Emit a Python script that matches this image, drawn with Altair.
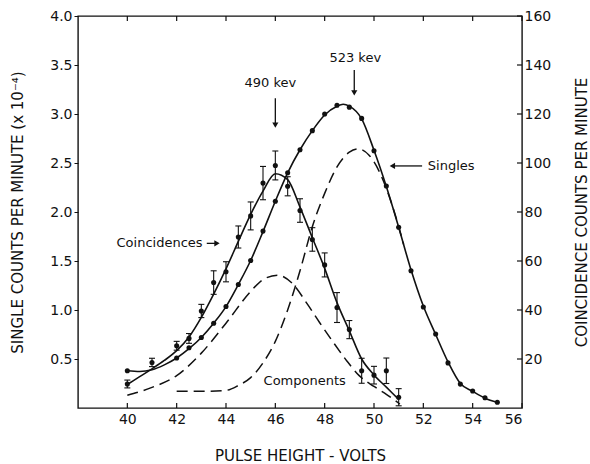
import altair as alt
import pandas as pd

# ---------------- data ----------------
# Singles data points (left axis, counts/min x 10^-4)
singles_v = [40, 42, 42.5, 43, 43.5, 44, 44.5, 45, 45.5, 46, 46.5, 47, 47.5, 48,
             48.5, 49, 49.5, 50, 50.5, 51, 51.5, 52, 52.5, 53, 53.5, 54, 54.5, 55]
singles_c = [0.38, 0.51, 0.615, 0.72, 0.865, 1.035, 1.26, 1.505, 1.805, 2.11, 2.40,
             2.635, 2.83, 3.00, 3.09, 3.07, 2.955, 2.625, 2.265, 1.845, 1.40, 1.03,
             0.755, 0.46, 0.244, 0.174, 0.104, 0.058]

# Singles smooth curve
sfit_v = [40, 40.5, 41, 41.5, 42, 42.5, 43, 43.5, 44, 44.5, 45, 45.5, 46, 46.5, 47,
          47.5, 48, 48.5, 48.75, 49, 49.5, 50, 50.5, 51, 51.5, 52, 52.5, 53, 53.5,
          54, 54.5, 55]
sfit_c = [0.38, 0.372, 0.39, 0.44, 0.51, 0.605, 0.72, 0.865, 1.035, 1.26, 1.505,
          1.80, 2.11, 2.40, 2.635, 2.83, 2.99, 3.08, 3.10, 3.08, 2.95, 2.63, 2.26,
          1.845, 1.41, 1.04, 0.75, 0.47, 0.25, 0.17, 0.10, 0.058]

# Coincidence data points (right axis, counts/min) with error half-widths
coin_v = [40, 41, 42, 42.5, 43, 43.5, 44, 44.5, 45, 45.5, 46, 46.5, 47, 47.5, 48,
          48.5, 49, 49.5, 50, 50.5, 51]
coin_c = [9.8, 18.6, 25.4, 28.4, 39.6, 51.2, 55.6, 69.8, 78.4, 91.8, 99.0, 90.5,
          80.6, 68.8, 58.4, 41.0, 32.0, 15.2, 13.4, 15.2, 4.4]
coin_e = [1.6, 1.7, 1.8, 2.0, 2.7, 4.8, 4.1, 4.5, 5.7, 6.8, 5.9, 3.9, 4.8, 4.8, 4.9,
          6.1, 3.7, 5.1, 3.6, 5.2, 3.5]

# Coincidence smooth curve
cfit_v = [40, 40.5, 41, 41.5, 42, 42.5, 43, 43.5, 44, 44.5, 45, 45.5, 46, 46.5, 47,
          47.5, 48, 48.5, 49, 49.5, 50, 50.5, 51]
cfit_c = [9.6, 12.8, 16.0, 19.4, 23.4, 29.0, 37.0, 46.5, 56.8, 68.0, 79.0, 88.5,
          95.6, 93.2, 82.0, 69.5, 57.0, 43.0, 31.5, 20.0, 13.5, 8.5, 3.5]

# Dashed component curves (left axis units)
c490_v = [40, 41, 42, 43, 44, 45, 45.5, 46.1, 46.65, 47.3, 47.8, 48.35, 48.9, 49.4,
          50, 50.5, 51.05]
c490_c = [0.13, 0.21, 0.33, 0.56, 0.865, 1.19, 1.31, 1.355, 1.28, 1.06, 0.87, 0.67,
          0.48, 0.33, 0.22, 0.14, 0.04]
c523_v = [42, 43, 44, 44.5, 45, 45.5, 46, 46.5, 47, 47.5, 48, 48.5, 49, 49.35, 49.8,
          50.2, 50.5, 50.85, 51.2]
c523_c = [0.17, 0.17, 0.18, 0.23, 0.31, 0.46, 0.68, 1.00, 1.40, 1.85, 2.19, 2.46,
          2.61, 2.645, 2.58, 2.42, 2.24, 1.98, 1.67]

# Tick values
x_ticks = [40, 42, 44, 46, 48, 50, 52, 54, 56]
yl_ticks = [0.5, 1.0, 1.5, 2.0, 2.5, 3.0, 3.5, 4.0]
yr_ticks = [20, 40, 60, 80, 100, 120, 140, 160]

# Annotations (data units, left axis)
ann_label = ["490 kev", "523 kev", "Singles", "Coincidences", "Components"]
ann_x = [45.8, 49.24, 52.18, 43.05, 47.19]
ann_y = [3.32, 3.57, 2.47, 1.68, 0.275]
ann_align = ["center", "center", "left", "right", "center"]

arr_x = [46.0, 49.2, 51.95, 43.22]
arr_x2 = [46.0, 49.2, 50.75, 43.65]
arr_y = [3.16, 3.45, 2.47, 1.68]
arr_y2 = [2.90, 3.22, 2.47, 1.68]
head_x = [46.0, 49.2, 50.745, 43.635]
head_y = [2.886, 3.216, 2.47, 1.68]
head_shape = ["triangle-down", "triangle-down", "triangle-left", "triangle-right"]

# ---------------- tables ----------------
df_s = pd.DataFrame({"x": singles_v, "y": singles_c})
df_sf = pd.DataFrame({"x": sfit_v, "y": sfit_c})
df_c = pd.DataFrame({"x": coin_v, "y": coin_c,
                     "lo": [c - e for c, e in zip(coin_c, coin_e)],
                     "hi": [c + e for c, e in zip(coin_c, coin_e)]})
df_cf = pd.DataFrame({"x": cfit_v, "y": cfit_c})
df_comp = pd.concat([
    pd.DataFrame({"x": c490_v, "y": c490_c, "comp": "490"}),
    pd.DataFrame({"x": c523_v, "y": c523_c, "comp": "523"}),
])
df_ann = pd.DataFrame({"x": ann_x, "y": ann_y, "label": ann_label, "al": ann_align})
df_arr = pd.DataFrame({"x": arr_x, "x2": arr_x2, "y": arr_y, "y2": arr_y2})
df_head = pd.DataFrame({"x": head_x, "y": head_y, "shape": head_shape})
df_xt = pd.DataFrame({"x": x_ticks})
df_yrt = pd.DataFrame({"y": yr_ticks})

FONT = "DejaVu Sans"
INK = "#111111"

xs = alt.Scale(domain=[38, 56], nice=False, zero=False)
yls = alt.Scale(domain=[0, 4], nice=False, zero=False)
yrs = alt.Scale(domain=[0, 160], nice=False, zero=False)

x_axis = alt.Axis(title="PULSE HEIGHT - VOLTS", values=x_ticks, ticks=False,
                  domain=False, grid=False, labelFontSize=14, titleFontSize=15,
                  titleFontWeight="normal", labelPadding=4, titlePadding=22,
                  labelFont=FONT, titleFont=FONT, labelColor=INK, titleColor=INK)
yl_axis = alt.Axis(title="SINGLE COUNTS PER MINUTE (x 10⁻⁴)", values=yl_ticks,
                   format=".1f", orient="left", tickSize=4, tickColor=INK,
                   domain=False, grid=False, labelFontSize=14, titleFontSize=15,
                   titleFontWeight="normal", labelPadding=2, titlePadding=24,
                   labelFont=FONT, titleFont=FONT, labelColor=INK, titleColor=INK)
yr_axis = alt.Axis(title="COINCIDENCE COUNTS PER MINUTE", values=yr_ticks,
                   orient="right", ticks=False, domain=False, grid=False,
                   labelFontSize=14, titleFontSize=15, titleFontWeight="normal",
                   labelPadding=2, titlePadding=24, titleAngle=270,
                   titleBaseline="top", labelFont=FONT, titleFont=FONT,
                   labelColor=INK, titleColor=INK)


def X(f="x"):
    return alt.X(f"{f}:Q", scale=xs, axis=x_axis)


def YL(f="y"):
    return alt.Y(f"{f}:Q", scale=yls, axis=yl_axis)


def YR(f="y"):
    return alt.Y(f"{f}:Q", scale=yrs, axis=yr_axis)


# ---------------- left (singles) group ----------------
s_line = alt.Chart(df_sf).mark_line(color=INK, strokeWidth=1.6, interpolate="monotone").encode(
    x=X(), y=YL())
s_pts = alt.Chart(df_s).mark_point(filled=True, color=INK, size=26, opacity=1).encode(
    x=X(), y=YL())
comp = alt.Chart(df_comp).mark_line(color=INK, strokeWidth=1.5, strokeDash=[11, 6],
                                    interpolate="monotone").encode(
    x=X(), y=YL(), detail="comp:N")

txt_layers = []
for al in ["center", "left", "right"]:
    txt_layers.append(
        alt.Chart(df_ann).transform_filter(alt.datum.al == al)
        .mark_text(align=al, baseline="middle", font=FONT, fontSize=13, color=INK)
        .encode(x=X(), y=YL(), text="label:N"))

arrows = alt.Chart(df_arr).mark_rule(color=INK, strokeWidth=1.3).encode(
    x=X(), x2="x2:Q", y=YL(), y2="y2:Q")
heads = alt.Chart(df_head).mark_point(filled=True, color=INK, size=38, opacity=1).encode(
    x=X(), y=YL(), shape=alt.Shape("shape:N", scale=None))

top_ticks = alt.Chart(df_xt).mark_rule(color=INK, strokeWidth=1.2).encode(
    x=X(), y=alt.value(0), y2=alt.value(5))
bot_ticks = alt.Chart(df_xt).mark_rule(color=INK, strokeWidth=1.2).encode(
    x=X(), y=alt.value(392), y2=alt.value(387))

left = alt.layer(comp, s_line, s_pts, *txt_layers, arrows, heads, top_ticks, bot_ticks)

# ---------------- right (coincidence) group ----------------
c_line = alt.Chart(df_cf).mark_line(color=INK, strokeWidth=1.6, interpolate="monotone").encode(
    x=X(), y=YR())
c_err = alt.Chart(df_c).mark_rule(color=INK, strokeWidth=1.1).encode(
    x=X(), y=YR("lo"), y2="hi:Q")
c_cap_lo = alt.Chart(df_c).mark_tick(orient="horizontal", size=6, thickness=1.1, color=INK,
                                     opacity=1).encode(x=X(), y=YR("lo"))
c_cap_hi = alt.Chart(df_c).mark_tick(orient="horizontal", size=6, thickness=1.1, color=INK,
                                     opacity=1).encode(x=X(), y=YR("hi"))
c_pts = alt.Chart(df_c).mark_point(filled=True, color=INK, size=26, opacity=1).encode(
    x=X(), y=YR())
r_ticks = alt.Chart(df_yrt).mark_rule(color=INK, strokeWidth=1.2).encode(
    y=YR(), x=alt.value(444), x2=alt.value(439))

right = alt.layer(c_line, c_err, c_cap_lo, c_cap_hi, c_pts, r_ticks)

chart = (
    alt.layer(left, right)
    .resolve_scale(y="independent")
    .properties(width=444, height=392,
                padding={"left": 78, "top": 16, "right": 68, "bottom": 56},
                autosize=alt.AutoSizeParams(type="none"),
                background="white")
    .configure_view(stroke=INK, strokeWidth=1.4)
)

chart.save("out.html", embed_options={"renderer": "svg", "actions": False})
